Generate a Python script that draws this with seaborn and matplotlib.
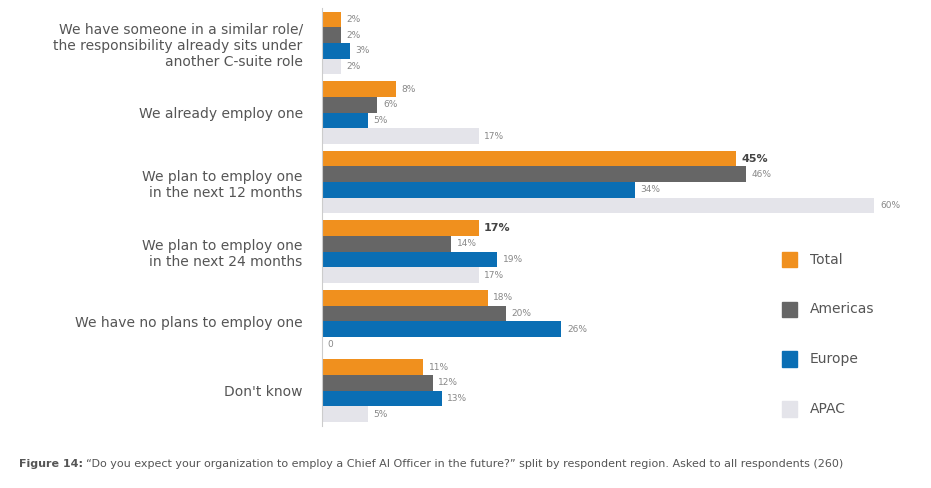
import matplotlib
matplotlib.use("Agg")
import matplotlib.pyplot as plt
import seaborn as sns
import pandas as pd

categories = ["We have someone in a similar role/\nthe responsibility already sits under\nanother C-suite role",
              "We already employ one",
              "We plan to employ one\nin the next 12 months",
              "We plan to employ one\nin the next 24 months",
              "We have no plans to employ one",
              "Don't know"]
regions = ["Total", "Americas", "Europe", "APAC"]
total = [2, 8, 45, 17, 18, 11]
americas = [2, 6, 46, 14, 20, 12]
europe = [3, 5, 34, 19, 26, 13]
apac = [2, 17, 60, 17, 0, 5]
colors = ["#F0901E", "#666666", "#0A6EB4", "#E4E4EA"]

series = [total, americas, europe, apac]
rows = []
for r, vals in zip(regions, series):
    for c, v in zip(categories, vals):
        rows.append({"cat": c, "region": r, "value": v})
df = pd.DataFrame(rows)

fig = plt.figure(figsize=(9.31, 4.88), dpi=100)
ax = fig.add_axes([0.346, 0.128, 0.62, 0.855])
sns.barplot(data=df, y="cat", x="value", hue="region", palette=colors,
            orient="h", width=0.9, gap=0, ax=ax, legend=False, saturation=1)
ax.set_xlim(0, 62.7)
ax.set_ylim(5.5, -0.5)
for sp in ax.spines.values():
    sp.set_visible(False)
ax.spines["left"].set_visible(True)
ax.spines["left"].set_color("#cccccc")
ax.set_xticks([])
ax.set_xlabel("")
ax.set_ylabel("")
ax.tick_params(axis="y", length=0, pad=14, labelsize=10, labelcolor="#555555")

for ri, cont in enumerate(ax.containers):
    vals = series[ri]
    labels = [f"{v}%" if v > 0 else "0" for v in vals]
    texts = ax.bar_label(cont, labels=labels, padding=4, fontsize=6.5, color="#888888")
    if ri == 0:
        for ci, t in enumerate(texts):
            if ci in (2, 3):
                t.set_fontweight("bold")
                t.set_fontsize(8)
                t.set_color("#444444")

for i, (r, c) in enumerate(zip(regions, colors)):
    y = 0.452 - i * 0.102
    fig.patches.append(plt.Rectangle((0.84, y), 0.016, 0.032, transform=fig.transFigure,
                                     color=c, zorder=5))
    fig.text(0.87, y + 0.016, r, fontsize=10, color="#555555", va="center")

fig.text(0.02, 0.05, "Figure 14:", fontsize=8, fontweight="bold", color="#555555", va="center")
fig.text(0.092, 0.05, "\u201cDo you expect your organization to employ a Chief AI Officer in the future?\u201d split by respondent region. Asked to all respondents (260)",
         fontsize=8, color="#555555", va="center")
fig.savefig("out.png", dpi=100, facecolor="white")
